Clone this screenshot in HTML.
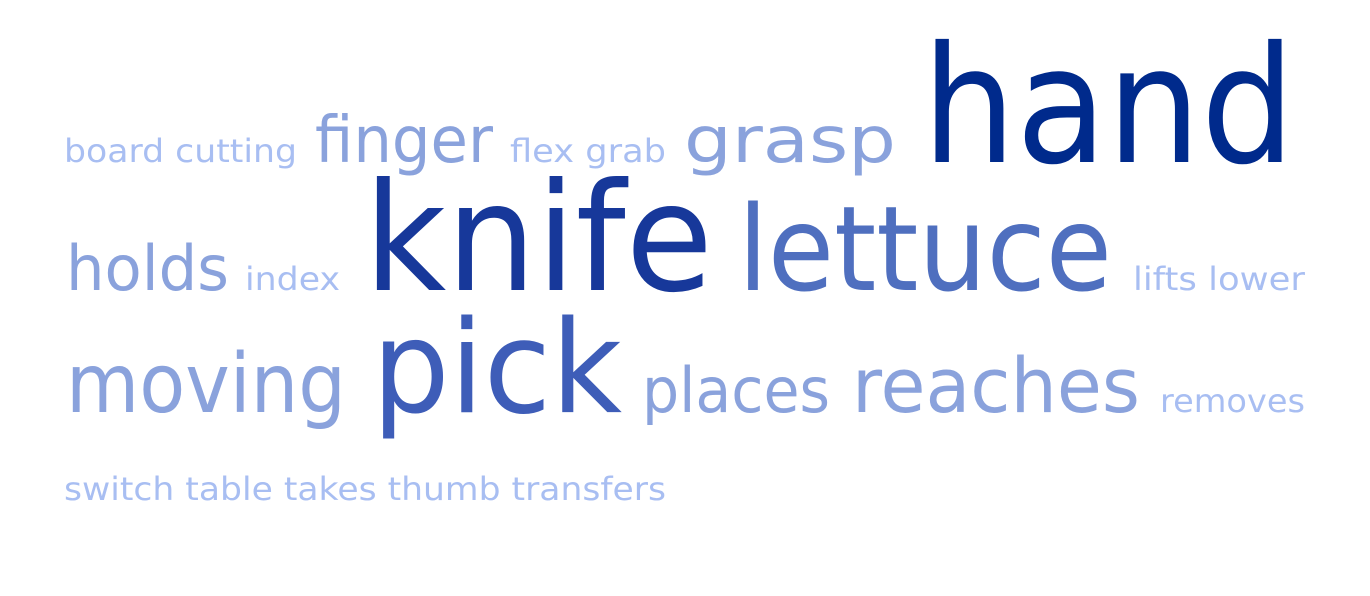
<!DOCTYPE html>
<html><head><meta charset="utf-8"><style>
html,body{margin:0;padding:0;background:#fff;}
svg{display:block;}
text{font-family:"DejaVu Sans","Liberation Sans",sans-serif;}
</style></head><body>
<svg width="1370" height="596" viewBox="0 0 1370 596">
<g id="cloud"></g>
</svg>
<script>
const words = ["board cutting","finger","flex grab","grasp","hand","holds","index","knife","lettuce","lifts lower","moving","pick","places","reaches","removes","switch table takes thumb transfers"];
const sizes = [32,64,32,64,162,62,32,150,118,32,82,128,62,76,32,32];
const colors = ["#a8bef2","#8aa2dc","#a8bef2","#8aa2dc","#002a8c","#8aa2dc","#a8bef2","#17389a","#4f6fbf","#a8bef2","#8aa2dc","#3e5db8","#8aa2dc","#8aa2dc","#a8bef2","#a8bef2"];
const xs = [64,315,510,684,922,66,245,364,738,1133,66,372,642,852,1160,64];
const xe = [297,493,666,896,1295,229,340,713,1112,1305,346,622,830,1140,1305,666];
const ys = [162,162,162,162,162,290,290,290,290,290,412,412,412,412,412,500];
const g = document.getElementById('cloud');
const NS = "http://www.w3.org/2000/svg";
words.forEach((w,i)=>{
  const t = document.createElementNS(NS,'text');
  t.setAttribute('x', xs[i]);
  t.setAttribute('y', ys[i]);
  t.setAttribute('font-size', sizes[i]);
  t.setAttribute('fill', colors[i]);
  t.setAttribute('textLength', xe[i]-xs[i]);
  t.setAttribute('lengthAdjust', 'spacingAndGlyphs');
  t.textContent = w;
  
  
  g.appendChild(t);
});
</script>
</body></html>
